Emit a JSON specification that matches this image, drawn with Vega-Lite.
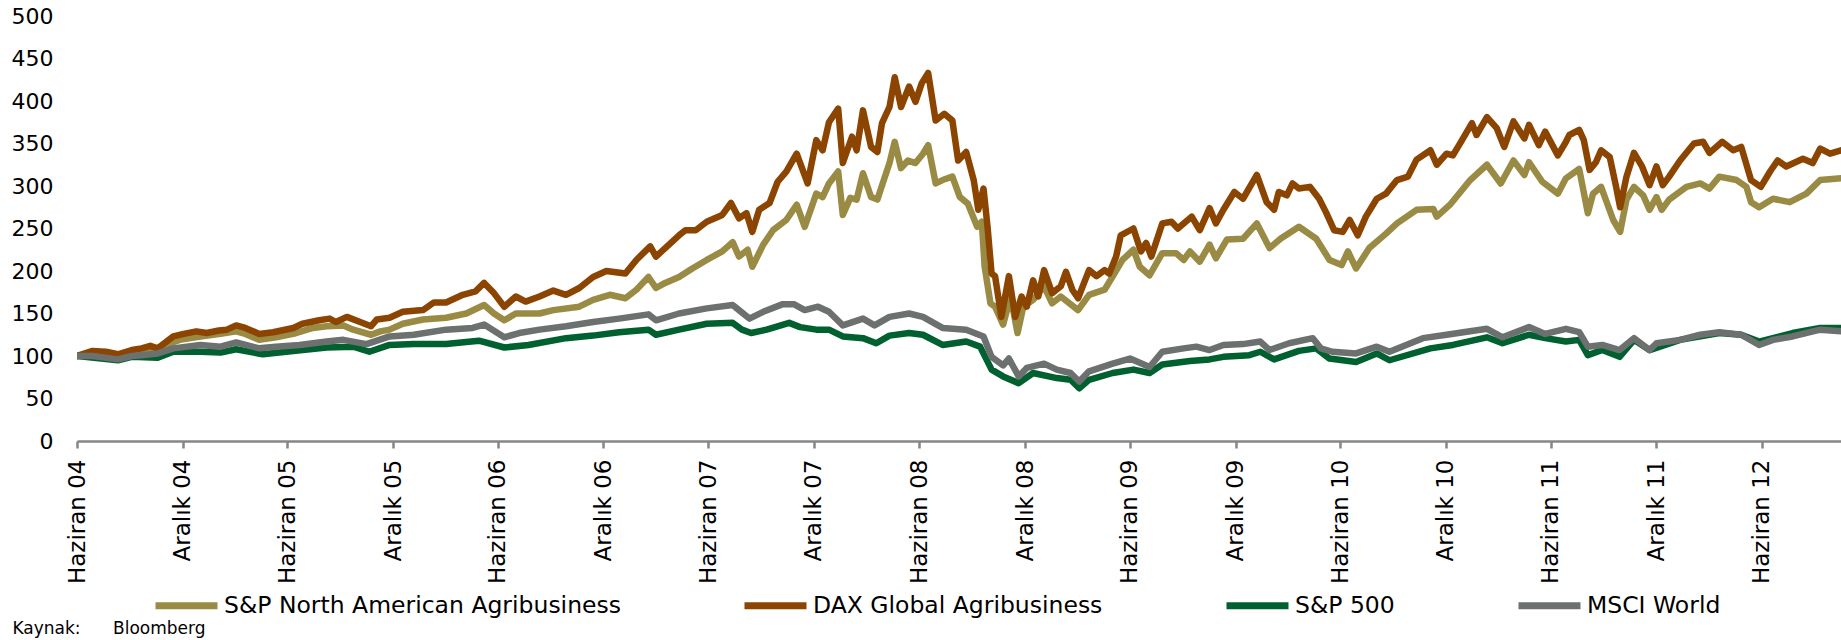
{
"$schema":"https://vega.github.io/schema/vega-lite/v6.json",
"width":1764,"height":425,
"autosize":{"type":"none"},
"padding":{"left":77,"top":16,"right":0,"bottom":199},
"background":"white",
"config":{"view":{"stroke":null},"font":"DejaVu Sans"},
"data":{"values":[
{"series":"S&P North American Agribusiness","date":"2004-06-01","value":100},{"series":"S&P North American Agribusiness","date":"2004-06-28","value":104},{"series":"S&P North American Agribusiness","date":"2004-08-11","value":100},{"series":"S&P North American Agribusiness","date":"2004-09-21","value":106},{"series":"S&P North American Agribusiness","date":"2004-10-19","value":107},{"series":"S&P North American Agribusiness","date":"2004-11-10","value":115},{"series":"S&P North American Agribusiness","date":"2004-11-26","value":119},{"series":"S&P North American Agribusiness","date":"2005-01-01","value":123},{"series":"S&P North American Agribusiness","date":"2005-02-05","value":126},{"series":"S&P North American Agribusiness","date":"2005-03-04","value":129},{"series":"S&P North American Agribusiness","date":"2005-03-20","value":126},{"series":"S&P North American Agribusiness","date":"2005-04-13","value":119},{"series":"S&P North American Agribusiness","date":"2005-05-12","value":122},{"series":"S&P North American Agribusiness","date":"2005-06-11","value":126},{"series":"S&P North American Agribusiness","date":"2005-07-15","value":133},{"series":"S&P North American Agribusiness","date":"2005-08-08","value":135},{"series":"S&P North American Agribusiness","date":"2005-09-06","value":136},{"series":"S&P North American Agribusiness","date":"2005-09-23","value":131},{"series":"S&P North American Agribusiness","date":"2005-10-24","value":125},{"series":"S&P North American Agribusiness","date":"2005-11-09","value":129},{"series":"S&P North American Agribusiness","date":"2005-11-25","value":131},{"series":"S&P North American Agribusiness","date":"2005-12-18","value":138},{"series":"S&P North American Agribusiness","date":"2006-01-22","value":143},{"series":"S&P North American Agribusiness","date":"2006-03-03","value":145},{"series":"S&P North American Agribusiness","date":"2006-04-07","value":150},{"series":"S&P North American Agribusiness","date":"2006-05-08","value":160},{"series":"S&P North American Agribusiness","date":"2006-05-25","value":150},{"series":"S&P North American Agribusiness","date":"2006-06-12","value":142},{"series":"S&P North American Agribusiness","date":"2006-07-02","value":150},{"series":"S&P North American Agribusiness","date":"2006-08-12","value":150},{"series":"S&P North American Agribusiness","date":"2006-09-05","value":154},{"series":"S&P North American Agribusiness","date":"2006-10-20","value":158},{"series":"S&P North American Agribusiness","date":"2006-11-13","value":166},{"series":"S&P North American Agribusiness","date":"2006-12-12","value":172},{"series":"S&P North American Agribusiness","date":"2007-01-08","value":168},{"series":"S&P North American Agribusiness","date":"2007-01-27","value":178},{"series":"S&P North American Agribusiness","date":"2007-02-17","value":193},{"series":"S&P North American Agribusiness","date":"2007-03-02","value":180},{"series":"S&P North American Agribusiness","date":"2007-03-18","value":186},{"series":"S&P North American Agribusiness","date":"2007-04-11","value":193},{"series":"S&P North American Agribusiness","date":"2007-05-04","value":203},{"series":"S&P North American Agribusiness","date":"2007-05-29","value":213},{"series":"S&P North American Agribusiness","date":"2007-06-25","value":223},{"series":"S&P North American Agribusiness","date":"2007-07-13","value":234},{"series":"S&P North American Agribusiness","date":"2007-07-24","value":217},{"series":"S&P North American Agribusiness","date":"2007-08-08","value":225},{"series":"S&P North American Agribusiness","date":"2007-08-16","value":205},{"series":"S&P North American Agribusiness","date":"2007-09-04","value":231},{"series":"S&P North American Agribusiness","date":"2007-09-21","value":248},{"series":"S&P North American Agribusiness","date":"2007-10-14","value":260},{"series":"S&P North American Agribusiness","date":"2007-11-01","value":278},{"series":"S&P North American Agribusiness","date":"2007-11-15","value":252},{"series":"S&P North American Agribusiness","date":"2007-12-05","value":291},{"series":"S&P North American Agribusiness","date":"2007-12-16","value":287},{"series":"S&P North American Agribusiness","date":"2007-12-27","value":303},{"series":"S&P North American Agribusiness","date":"2008-01-12","value":317},{"series":"S&P North American Agribusiness","date":"2008-01-20","value":266},{"series":"S&P North American Agribusiness","date":"2008-02-02","value":286},{"series":"S&P North American Agribusiness","date":"2008-02-13","value":284},{"series":"S&P North American Agribusiness","date":"2008-02-24","value":315},{"series":"S&P North American Agribusiness","date":"2008-03-09","value":287},{"series":"S&P North American Agribusiness","date":"2008-03-20","value":284},{"series":"S&P North American Agribusiness","date":"2008-04-02","value":311},{"series":"S&P North American Agribusiness","date":"2008-04-10","value":327},{"series":"S&P North American Agribusiness","date":"2008-04-19","value":352},{"series":"S&P North American Agribusiness","date":"2008-04-30","value":321},{"series":"S&P North American Agribusiness","date":"2008-05-12","value":330},{"series":"S&P North American Agribusiness","date":"2008-05-25","value":327},{"series":"S&P North American Agribusiness","date":"2008-06-07","value":338},{"series":"S&P North American Agribusiness","date":"2008-06-16","value":348},{"series":"S&P North American Agribusiness","date":"2008-06-29","value":303},{"series":"S&P North American Agribusiness","date":"2008-07-11","value":307},{"series":"S&P North American Agribusiness","date":"2008-07-28","value":311},{"series":"S&P North American Agribusiness","date":"2008-08-10","value":287},{"series":"S&P North American Agribusiness","date":"2008-08-24","value":279},{"series":"S&P North American Agribusiness","date":"2008-09-09","value":252},{"series":"S&P North American Agribusiness","date":"2008-09-17","value":258},{"series":"S&P North American Agribusiness","date":"2008-09-22","value":205},{"series":"S&P North American Agribusiness","date":"2008-10-02","value":162},{"series":"S&P North American Agribusiness","date":"2008-10-10","value":158},{"series":"S&P North American Agribusiness","date":"2008-10-24","value":137},{"series":"S&P North American Agribusiness","date":"2008-11-06","value":170},{"series":"S&P North American Agribusiness","date":"2008-11-18","value":127},{"series":"S&P North American Agribusiness","date":"2008-11-28","value":158},{"series":"S&P North American Agribusiness","date":"2008-12-15","value":166},{"series":"S&P North American Agribusiness","date":"2009-01-03","value":182},{"series":"S&P North American Agribusiness","date":"2009-01-17","value":162},{"series":"S&P North American Agribusiness","date":"2009-02-01","value":170},{"series":"S&P North American Agribusiness","date":"2009-03-03","value":154},{"series":"S&P North American Agribusiness","date":"2009-03-22","value":172},{"series":"S&P North American Agribusiness","date":"2009-04-18","value":178},{"series":"S&P North American Agribusiness","date":"2009-05-05","value":197},{"series":"S&P North American Agribusiness","date":"2009-05-19","value":213},{"series":"S&P North American Agribusiness","date":"2009-06-07","value":225},{"series":"S&P North American Agribusiness","date":"2009-06-18","value":205},{"series":"S&P North American Agribusiness","date":"2009-07-05","value":195},{"series":"S&P North American Agribusiness","date":"2009-07-27","value":221},{"series":"S&P North American Agribusiness","date":"2009-08-20","value":221},{"series":"S&P North American Agribusiness","date":"2009-09-02","value":213},{"series":"S&P North American Agribusiness","date":"2009-09-13","value":223},{"series":"S&P North American Agribusiness","date":"2009-09-30","value":211},{"series":"S&P North American Agribusiness","date":"2009-10-17","value":231},{"series":"S&P North American Agribusiness","date":"2009-10-28","value":215},{"series":"S&P North American Agribusiness","date":"2009-11-16","value":237},{"series":"S&P North American Agribusiness","date":"2009-12-14","value":238},{"series":"S&P North American Agribusiness","date":"2010-01-07","value":256},{"series":"S&P North American Agribusiness","date":"2010-01-29","value":227},{"series":"S&P North American Agribusiness","date":"2010-02-17","value":238},{"series":"S&P North American Agribusiness","date":"2010-03-21","value":252},{"series":"S&P North American Agribusiness","date":"2010-04-20","value":238},{"series":"S&P North American Agribusiness","date":"2010-05-13","value":213},{"series":"S&P North American Agribusiness","date":"2010-06-03","value":207},{"series":"S&P North American Agribusiness","date":"2010-06-14","value":223},{"series":"S&P North American Agribusiness","date":"2010-06-28","value":203},{"series":"S&P North American Agribusiness","date":"2010-07-21","value":227},{"series":"S&P North American Agribusiness","date":"2010-08-19","value":244},{"series":"S&P North American Agribusiness","date":"2010-09-07","value":256},{"series":"S&P North American Agribusiness","date":"2010-10-11","value":272},{"series":"S&P North American Agribusiness","date":"2010-11-09","value":273},{"series":"S&P North American Agribusiness","date":"2010-11-15","value":264},{"series":"S&P North American Agribusiness","date":"2010-12-08","value":278},{"series":"S&P North American Agribusiness","date":"2011-01-12","value":307},{"series":"S&P North American Agribusiness","date":"2011-02-10","value":325},{"series":"S&P North American Agribusiness","date":"2011-03-06","value":303},{"series":"S&P North American Agribusiness","date":"2011-03-28","value":330},{"series":"S&P North American Agribusiness","date":"2011-04-16","value":313},{"series":"S&P North American Agribusiness","date":"2011-04-24","value":328},{"series":"S&P North American Agribusiness","date":"2011-05-17","value":305},{"series":"S&P North American Agribusiness","date":"2011-06-13","value":291},{"series":"S&P North American Agribusiness","date":"2011-06-27","value":309},{"series":"S&P North American Agribusiness","date":"2011-07-20","value":320},{"series":"S&P North American Agribusiness","date":"2011-08-04","value":268},{"series":"S&P North American Agribusiness","date":"2011-08-13","value":291},{"series":"S&P North American Agribusiness","date":"2011-08-27","value":299},{"series":"S&P North American Agribusiness","date":"2011-09-17","value":260},{"series":"S&P North American Agribusiness","date":"2011-09-29","value":246},{"series":"S&P North American Agribusiness","date":"2011-10-10","value":284},{"series":"S&P North American Agribusiness","date":"2011-10-23","value":299},{"series":"S&P North American Agribusiness","date":"2011-11-08","value":289},{"series":"S&P North American Agribusiness","date":"2011-11-19","value":272},{"series":"S&P North American Agribusiness","date":"2011-12-01","value":287},{"series":"S&P North American Agribusiness","date":"2011-12-10","value":272},{"series":"S&P North American Agribusiness","date":"2011-12-23","value":284},{"series":"S&P North American Agribusiness","date":"2012-01-22","value":299},{"series":"S&P North American Agribusiness","date":"2012-02-15","value":303},{"series":"S&P North American Agribusiness","date":"2012-03-02","value":297},{"series":"S&P North American Agribusiness","date":"2012-03-19","value":311},{"series":"S&P North American Agribusiness","date":"2012-04-18","value":307},{"series":"S&P North American Agribusiness","date":"2012-05-05","value":299},{"series":"S&P North American Agribusiness","date":"2012-05-13","value":281},{"series":"S&P North American Agribusiness","date":"2012-05-27","value":275},{"series":"S&P North American Agribusiness","date":"2012-06-20","value":285},{"series":"S&P North American Agribusiness","date":"2012-07-19","value":281},{"series":"S&P North American Agribusiness","date":"2012-08-17","value":291},{"series":"S&P North American Agribusiness","date":"2012-09-10","value":307},{"series":"S&P North American Agribusiness","date":"2012-10-16","value":309},
{"series":"DAX Global Agribusiness","date":"2004-06-01","value":100},{"series":"DAX Global Agribusiness","date":"2004-06-28","value":106},{"series":"DAX Global Agribusiness","date":"2004-07-21","value":105},{"series":"DAX Global Agribusiness","date":"2004-08-11","value":102},{"series":"DAX Global Agribusiness","date":"2004-09-04","value":107},{"series":"DAX Global Agribusiness","date":"2004-09-21","value":109},{"series":"DAX Global Agribusiness","date":"2004-10-06","value":112},{"series":"DAX Global Agribusiness","date":"2004-10-19","value":109},{"series":"DAX Global Agribusiness","date":"2004-11-15","value":123},{"series":"DAX Global Agribusiness","date":"2004-12-03","value":126},{"series":"DAX Global Agribusiness","date":"2004-12-25","value":129},{"series":"DAX Global Agribusiness","date":"2005-01-12","value":127},{"series":"DAX Global Agribusiness","date":"2005-02-02","value":130},{"series":"DAX Global Agribusiness","date":"2005-02-16","value":131},{"series":"DAX Global Agribusiness","date":"2005-03-04","value":136},{"series":"DAX Global Agribusiness","date":"2005-03-20","value":133},{"series":"DAX Global Agribusiness","date":"2005-04-13","value":126},{"series":"DAX Global Agribusiness","date":"2005-05-07","value":128},{"series":"DAX Global Agribusiness","date":"2005-06-11","value":133},{"series":"DAX Global Agribusiness","date":"2005-06-27","value":138},{"series":"DAX Global Agribusiness","date":"2005-07-26","value":142},{"series":"DAX Global Agribusiness","date":"2005-08-13","value":144},{"series":"DAX Global Agribusiness","date":"2005-08-24","value":140},{"series":"DAX Global Agribusiness","date":"2005-09-12","value":146},{"series":"DAX Global Agribusiness","date":"2005-10-05","value":140},{"series":"DAX Global Agribusiness","date":"2005-10-24","value":135},{"series":"DAX Global Agribusiness","date":"2005-11-03","value":143},{"series":"DAX Global Agribusiness","date":"2005-11-25","value":145},{"series":"DAX Global Agribusiness","date":"2005-12-18","value":152},{"series":"DAX Global Agribusiness","date":"2006-01-22","value":154},{"series":"DAX Global Agribusiness","date":"2006-02-10","value":163},{"series":"DAX Global Agribusiness","date":"2006-03-03","value":163},{"series":"DAX Global Agribusiness","date":"2006-04-01","value":172},{"series":"DAX Global Agribusiness","date":"2006-04-23","value":176},{"series":"DAX Global Agribusiness","date":"2006-05-08","value":186},{"series":"DAX Global Agribusiness","date":"2006-05-25","value":174},{"series":"DAX Global Agribusiness","date":"2006-06-12","value":158},{"series":"DAX Global Agribusiness","date":"2006-07-02","value":170},{"series":"DAX Global Agribusiness","date":"2006-07-19","value":164},{"series":"DAX Global Agribusiness","date":"2006-08-12","value":170},{"series":"DAX Global Agribusiness","date":"2006-09-05","value":177},{"series":"DAX Global Agribusiness","date":"2006-09-27","value":172},{"series":"DAX Global Agribusiness","date":"2006-10-20","value":180},{"series":"DAX Global Agribusiness","date":"2006-11-13","value":193},{"series":"DAX Global Agribusiness","date":"2006-12-06","value":200},{"series":"DAX Global Agribusiness","date":"2007-01-08","value":197},{"series":"DAX Global Agribusiness","date":"2007-01-27","value":213},{"series":"DAX Global Agribusiness","date":"2007-02-20","value":229},{"series":"DAX Global Agribusiness","date":"2007-03-02","value":217},{"series":"DAX Global Agribusiness","date":"2007-03-18","value":227},{"series":"DAX Global Agribusiness","date":"2007-04-11","value":242},{"series":"DAX Global Agribusiness","date":"2007-04-22","value":248},{"series":"DAX Global Agribusiness","date":"2007-05-10","value":248},{"series":"DAX Global Agribusiness","date":"2007-05-29","value":258},{"series":"DAX Global Agribusiness","date":"2007-06-25","value":266},{"series":"DAX Global Agribusiness","date":"2007-07-10","value":280},{"series":"DAX Global Agribusiness","date":"2007-07-24","value":262},{"series":"DAX Global Agribusiness","date":"2007-08-06","value":268},{"series":"DAX Global Agribusiness","date":"2007-08-16","value":246},{"series":"DAX Global Agribusiness","date":"2007-08-28","value":272},{"series":"DAX Global Agribusiness","date":"2007-09-15","value":280},{"series":"DAX Global Agribusiness","date":"2007-09-29","value":305},{"series":"DAX Global Agribusiness","date":"2007-10-14","value":317},{"series":"DAX Global Agribusiness","date":"2007-11-01","value":338},{"series":"DAX Global Agribusiness","date":"2007-11-20","value":303},{"series":"DAX Global Agribusiness","date":"2007-12-05","value":354},{"series":"DAX Global Agribusiness","date":"2007-12-16","value":342},{"series":"DAX Global Agribusiness","date":"2007-12-27","value":375},{"series":"DAX Global Agribusiness","date":"2008-01-12","value":391},{"series":"DAX Global Agribusiness","date":"2008-01-20","value":327},{"series":"DAX Global Agribusiness","date":"2008-02-05","value":358},{"series":"DAX Global Agribusiness","date":"2008-02-13","value":342},{"series":"DAX Global Agribusiness","date":"2008-02-24","value":389},{"series":"DAX Global Agribusiness","date":"2008-03-09","value":346},{"series":"DAX Global Agribusiness","date":"2008-03-20","value":340},{"series":"DAX Global Agribusiness","date":"2008-03-28","value":374},{"series":"DAX Global Agribusiness","date":"2008-04-10","value":393},{"series":"DAX Global Agribusiness","date":"2008-04-19","value":428},{"series":"DAX Global Agribusiness","date":"2008-04-30","value":393},{"series":"DAX Global Agribusiness","date":"2008-05-14","value":417},{"series":"DAX Global Agribusiness","date":"2008-05-25","value":399},{"series":"DAX Global Agribusiness","date":"2008-06-05","value":421},{"series":"DAX Global Agribusiness","date":"2008-06-16","value":433},{"series":"DAX Global Agribusiness","date":"2008-06-29","value":377},{"series":"DAX Global Agribusiness","date":"2008-07-14","value":385},{"series":"DAX Global Agribusiness","date":"2008-07-28","value":377},{"series":"DAX Global Agribusiness","date":"2008-08-07","value":330},{"series":"DAX Global Agribusiness","date":"2008-08-21","value":340},{"series":"DAX Global Agribusiness","date":"2008-09-03","value":307},{"series":"DAX Global Agribusiness","date":"2008-09-11","value":272},{"series":"DAX Global Agribusiness","date":"2008-09-20","value":297},{"series":"DAX Global Agribusiness","date":"2008-09-27","value":252},{"series":"DAX Global Agribusiness","date":"2008-10-04","value":197},{"series":"DAX Global Agribusiness","date":"2008-10-10","value":194},{"series":"DAX Global Agribusiness","date":"2008-10-21","value":146},{"series":"DAX Global Agribusiness","date":"2008-11-03","value":194},{"series":"DAX Global Agribusiness","date":"2008-11-14","value":146},{"series":"DAX Global Agribusiness","date":"2008-11-25","value":170},{"series":"DAX Global Agribusiness","date":"2008-12-04","value":158},{"series":"DAX Global Agribusiness","date":"2008-12-15","value":189},{"series":"DAX Global Agribusiness","date":"2008-12-24","value":170},{"series":"DAX Global Agribusiness","date":"2009-01-03","value":201},{"series":"DAX Global Agribusiness","date":"2009-01-17","value":174},{"series":"DAX Global Agribusiness","date":"2009-02-01","value":182},{"series":"DAX Global Agribusiness","date":"2009-02-10","value":199},{"series":"DAX Global Agribusiness","date":"2009-02-21","value":178},{"series":"DAX Global Agribusiness","date":"2009-03-03","value":168},{"series":"DAX Global Agribusiness","date":"2009-03-22","value":201},{"series":"DAX Global Agribusiness","date":"2009-04-04","value":194},{"series":"DAX Global Agribusiness","date":"2009-04-18","value":201},{"series":"DAX Global Agribusiness","date":"2009-04-26","value":197},{"series":"DAX Global Agribusiness","date":"2009-05-08","value":217},{"series":"DAX Global Agribusiness","date":"2009-05-16","value":242},{"series":"DAX Global Agribusiness","date":"2009-06-07","value":250},{"series":"DAX Global Agribusiness","date":"2009-06-20","value":223},{"series":"DAX Global Agribusiness","date":"2009-06-29","value":233},{"series":"DAX Global Agribusiness","date":"2009-07-08","value":217},{"series":"DAX Global Agribusiness","date":"2009-07-27","value":256},{"series":"DAX Global Agribusiness","date":"2009-08-12","value":258},{"series":"DAX Global Agribusiness","date":"2009-08-23","value":250},{"series":"DAX Global Agribusiness","date":"2009-09-16","value":264},{"series":"DAX Global Agribusiness","date":"2009-09-30","value":248},{"series":"DAX Global Agribusiness","date":"2009-10-17","value":274},{"series":"DAX Global Agribusiness","date":"2009-10-28","value":256},{"series":"DAX Global Agribusiness","date":"2009-11-10","value":272},{"series":"DAX Global Agribusiness","date":"2009-11-29","value":293},{"series":"DAX Global Agribusiness","date":"2009-12-14","value":285},{"series":"DAX Global Agribusiness","date":"2010-01-07","value":313},{"series":"DAX Global Agribusiness","date":"2010-01-24","value":281},{"series":"DAX Global Agribusiness","date":"2010-02-06","value":272},{"series":"DAX Global Agribusiness","date":"2010-02-14","value":293},{"series":"DAX Global Agribusiness","date":"2010-02-28","value":289},{"series":"DAX Global Agribusiness","date":"2010-03-10","value":303},{"series":"DAX Global Agribusiness","date":"2010-03-21","value":297},{"series":"DAX Global Agribusiness","date":"2010-04-09","value":299},{"series":"DAX Global Agribusiness","date":"2010-04-25","value":285},{"series":"DAX Global Agribusiness","date":"2010-05-07","value":269},{"series":"DAX Global Agribusiness","date":"2010-05-21","value":248},{"series":"DAX Global Agribusiness","date":"2010-06-05","value":246},{"series":"DAX Global Agribusiness","date":"2010-06-17","value":260},{"series":"DAX Global Agribusiness","date":"2010-07-01","value":242},{"series":"DAX Global Agribusiness","date":"2010-07-15","value":264},{"series":"DAX Global Agribusiness","date":"2010-08-03","value":285},{"series":"DAX Global Agribusiness","date":"2010-08-19","value":291},{"series":"DAX Global Agribusiness","date":"2010-09-07","value":307},{"series":"DAX Global Agribusiness","date":"2010-09-26","value":311},{"series":"DAX Global Agribusiness","date":"2010-10-11","value":331},{"series":"DAX Global Agribusiness","date":"2010-11-04","value":342},{"series":"DAX Global Agribusiness","date":"2010-11-15","value":325},{"series":"DAX Global Agribusiness","date":"2010-12-02","value":338},{"series":"DAX Global Agribusiness","date":"2010-12-13","value":336},{"series":"DAX Global Agribusiness","date":"2010-12-27","value":352},{"series":"DAX Global Agribusiness","date":"2011-01-15","value":374},{"series":"DAX Global Agribusiness","date":"2011-01-23","value":360},{"series":"DAX Global Agribusiness","date":"2011-02-10","value":381},{"series":"DAX Global Agribusiness","date":"2011-02-27","value":368},{"series":"DAX Global Agribusiness","date":"2011-03-12","value":346},{"series":"DAX Global Agribusiness","date":"2011-03-28","value":376},{"series":"DAX Global Agribusiness","date":"2011-04-16","value":356},{"series":"DAX Global Agribusiness","date":"2011-04-24","value":372},{"series":"DAX Global Agribusiness","date":"2011-05-11","value":348},{"series":"DAX Global Agribusiness","date":"2011-05-22","value":364},{"series":"DAX Global Agribusiness","date":"2011-06-13","value":336},{"series":"DAX Global Agribusiness","date":"2011-06-27","value":352},{"series":"DAX Global Agribusiness","date":"2011-07-03","value":360},{"series":"DAX Global Agribusiness","date":"2011-07-20","value":366},{"series":"DAX Global Agribusiness","date":"2011-07-28","value":354},{"series":"DAX Global Agribusiness","date":"2011-08-07","value":319},{"series":"DAX Global Agribusiness","date":"2011-08-18","value":328},{"series":"DAX Global Agribusiness","date":"2011-08-27","value":342},{"series":"DAX Global Agribusiness","date":"2011-09-11","value":334},{"series":"DAX Global Agribusiness","date":"2011-09-22","value":299},{"series":"DAX Global Agribusiness","date":"2011-09-29","value":275},{"series":"DAX Global Agribusiness","date":"2011-10-10","value":311},{"series":"DAX Global Agribusiness","date":"2011-10-23","value":339},{"series":"DAX Global Agribusiness","date":"2011-11-06","value":323},{"series":"DAX Global Agribusiness","date":"2011-11-19","value":301},{"series":"DAX Global Agribusiness","date":"2011-12-01","value":323},{"series":"DAX Global Agribusiness","date":"2011-12-12","value":301},{"series":"DAX Global Agribusiness","date":"2011-12-23","value":311},{"series":"DAX Global Agribusiness","date":"2012-01-11","value":330},{"series":"DAX Global Agribusiness","date":"2012-02-04","value":350},{"series":"DAX Global Agribusiness","date":"2012-02-20","value":352},{"series":"DAX Global Agribusiness","date":"2012-03-02","value":339},{"series":"DAX Global Agribusiness","date":"2012-03-24","value":352},{"series":"DAX Global Agribusiness","date":"2012-04-12","value":342},{"series":"DAX Global Agribusiness","date":"2012-04-26","value":346},{"series":"DAX Global Agribusiness","date":"2012-05-13","value":307},{"series":"DAX Global Agribusiness","date":"2012-05-30","value":299},{"series":"DAX Global Agribusiness","date":"2012-06-15","value":317},{"series":"DAX Global Agribusiness","date":"2012-06-28","value":330},{"series":"DAX Global Agribusiness","date":"2012-07-13","value":323},{"series":"DAX Global Agribusiness","date":"2012-08-11","value":332},{"series":"DAX Global Agribusiness","date":"2012-08-28","value":327},{"series":"DAX Global Agribusiness","date":"2012-09-10","value":344},{"series":"DAX Global Agribusiness","date":"2012-09-27","value":338},{"series":"DAX Global Agribusiness","date":"2012-10-16","value":342},
{"series":"S&P 500","date":"2004-06-01","value":100},{"series":"S&P 500","date":"2004-08-11","value":95},{"series":"S&P 500","date":"2004-09-04","value":99},{"series":"S&P 500","date":"2004-10-19","value":98},{"series":"S&P 500","date":"2004-11-15","value":105},{"series":"S&P 500","date":"2005-01-01","value":105},{"series":"S&P 500","date":"2005-02-05","value":104},{"series":"S&P 500","date":"2005-03-04","value":108},{"series":"S&P 500","date":"2005-04-19","value":102},{"series":"S&P 500","date":"2005-06-11","value":106},{"series":"S&P 500","date":"2005-08-08","value":110},{"series":"S&P 500","date":"2005-09-23","value":111},{"series":"S&P 500","date":"2005-10-21","value":105},{"series":"S&P 500","date":"2005-11-25","value":113},{"series":"S&P 500","date":"2006-01-06","value":114},{"series":"S&P 500","date":"2006-03-03","value":114},{"series":"S&P 500","date":"2006-04-29","value":118},{"series":"S&P 500","date":"2006-06-12","value":110},{"series":"S&P 500","date":"2006-07-24","value":113},{"series":"S&P 500","date":"2006-09-27","value":121},{"series":"S&P 500","date":"2006-11-13","value":124},{"series":"S&P 500","date":"2006-12-28","value":128},{"series":"S&P 500","date":"2007-02-17","value":131},{"series":"S&P 500","date":"2007-03-02","value":125},{"series":"S&P 500","date":"2007-04-11","value":131},{"series":"S&P 500","date":"2007-05-29","value":138},{"series":"S&P 500","date":"2007-07-13","value":139},{"series":"S&P 500","date":"2007-07-29","value":131},{"series":"S&P 500","date":"2007-08-14","value":127},{"series":"S&P 500","date":"2007-09-10","value":131},{"series":"S&P 500","date":"2007-10-19","value":139},{"series":"S&P 500","date":"2007-11-07","value":134},{"series":"S&P 500","date":"2007-12-05","value":131},{"series":"S&P 500","date":"2007-12-27","value":131},{"series":"S&P 500","date":"2008-01-20","value":123},{"series":"S&P 500","date":"2008-02-24","value":121},{"series":"S&P 500","date":"2008-03-18","value":115},{"series":"S&P 500","date":"2008-04-10","value":124},{"series":"S&P 500","date":"2008-05-14","value":127},{"series":"S&P 500","date":"2008-06-07","value":125},{"series":"S&P 500","date":"2008-07-11","value":113},{"series":"S&P 500","date":"2008-08-21","value":117},{"series":"S&P 500","date":"2008-09-14","value":111},{"series":"S&P 500","date":"2008-10-04","value":84},{"series":"S&P 500","date":"2008-10-24","value":76},{"series":"S&P 500","date":"2008-11-20","value":68},{"series":"S&P 500","date":"2008-12-15","value":80},{"series":"S&P 500","date":"2009-01-25","value":74},{"series":"S&P 500","date":"2009-02-18","value":72},{"series":"S&P 500","date":"2009-03-05","value":62},{"series":"S&P 500","date":"2009-03-22","value":72},{"series":"S&P 500","date":"2009-05-02","value":80},{"series":"S&P 500","date":"2009-06-07","value":84},{"series":"S&P 500","date":"2009-07-05","value":80},{"series":"S&P 500","date":"2009-07-27","value":90},{"series":"S&P 500","date":"2009-09-13","value":94},{"series":"S&P 500","date":"2009-10-17","value":96},{"series":"S&P 500","date":"2009-11-10","value":99},{"series":"S&P 500","date":"2009-12-25","value":101},{"series":"S&P 500","date":"2010-01-13","value":105},{"series":"S&P 500","date":"2010-02-06","value":96},{"series":"S&P 500","date":"2010-03-21","value":106},{"series":"S&P 500","date":"2010-04-20","value":109},{"series":"S&P 500","date":"2010-05-13","value":97},{"series":"S&P 500","date":"2010-06-28","value":93},{"series":"S&P 500","date":"2010-08-03","value":103},{"series":"S&P 500","date":"2010-08-25","value":95},{"series":"S&P 500","date":"2010-11-04","value":109},{"series":"S&P 500","date":"2010-12-13","value":113},{"series":"S&P 500","date":"2011-02-10","value":122},{"series":"S&P 500","date":"2011-03-09","value":115},{"series":"S&P 500","date":"2011-04-24","value":125},{"series":"S&P 500","date":"2011-05-22","value":121},{"series":"S&P 500","date":"2011-06-27","value":117},{"series":"S&P 500","date":"2011-07-20","value":119},{"series":"S&P 500","date":"2011-08-04","value":101},{"series":"S&P 500","date":"2011-08-29","value":107},{"series":"S&P 500","date":"2011-09-28","value":99},{"series":"S&P 500","date":"2011-10-23","value":119},{"series":"S&P 500","date":"2011-11-19","value":107},{"series":"S&P 500","date":"2012-01-11","value":119},{"series":"S&P 500","date":"2012-03-19","value":127},{"series":"S&P 500","date":"2012-04-26","value":125},{"series":"S&P 500","date":"2012-05-27","value":117},{"series":"S&P 500","date":"2012-07-24","value":127},{"series":"S&P 500","date":"2012-09-10","value":133},{"series":"S&P 500","date":"2012-10-16","value":133},
{"series":"MSCI World","date":"2004-06-01","value":100},{"series":"MSCI World","date":"2004-06-28","value":100},{"series":"MSCI World","date":"2004-08-11","value":96},{"series":"MSCI World","date":"2004-09-04","value":100},{"series":"MSCI World","date":"2004-09-21","value":101},{"series":"MSCI World","date":"2004-10-19","value":103},{"series":"MSCI World","date":"2004-11-15","value":109},{"series":"MSCI World","date":"2005-01-01","value":113},{"series":"MSCI World","date":"2005-02-05","value":111},{"series":"MSCI World","date":"2005-03-04","value":116},{"series":"MSCI World","date":"2005-04-13","value":109},{"series":"MSCI World","date":"2005-05-12","value":111},{"series":"MSCI World","date":"2005-06-22","value":113},{"series":"MSCI World","date":"2005-08-08","value":117},{"series":"MSCI World","date":"2005-09-06","value":119},{"series":"MSCI World","date":"2005-10-16","value":114},{"series":"MSCI World","date":"2005-11-25","value":123},{"series":"MSCI World","date":"2006-01-06","value":125},{"series":"MSCI World","date":"2006-03-03","value":131},{"series":"MSCI World","date":"2006-04-18","value":133},{"series":"MSCI World","date":"2006-05-08","value":137},{"series":"MSCI World","date":"2006-06-12","value":122},{"series":"MSCI World","date":"2006-07-08","value":127},{"series":"MSCI World","date":"2006-08-12","value":131},{"series":"MSCI World","date":"2006-09-27","value":135},{"series":"MSCI World","date":"2006-11-13","value":140},{"series":"MSCI World","date":"2006-12-28","value":144},{"series":"MSCI World","date":"2007-02-17","value":149},{"series":"MSCI World","date":"2007-03-02","value":142},{"series":"MSCI World","date":"2007-04-11","value":150},{"series":"MSCI World","date":"2007-05-29","value":156},{"series":"MSCI World","date":"2007-07-13","value":160},{"series":"MSCI World","date":"2007-07-24","value":154},{"series":"MSCI World","date":"2007-08-11","value":144},{"series":"MSCI World","date":"2007-09-04","value":152},{"series":"MSCI World","date":"2007-10-08","value":161},{"series":"MSCI World","date":"2007-10-27","value":161},{"series":"MSCI World","date":"2007-11-15","value":154},{"series":"MSCI World","date":"2007-12-08","value":158},{"series":"MSCI World","date":"2007-12-27","value":152},{"series":"MSCI World","date":"2008-01-20","value":136},{"series":"MSCI World","date":"2008-02-24","value":144},{"series":"MSCI World","date":"2008-03-15","value":136},{"series":"MSCI World","date":"2008-04-10","value":146},{"series":"MSCI World","date":"2008-05-14","value":150},{"series":"MSCI World","date":"2008-06-07","value":146},{"series":"MSCI World","date":"2008-07-11","value":133},{"series":"MSCI World","date":"2008-08-21","value":131},{"series":"MSCI World","date":"2008-09-20","value":123},{"series":"MSCI World","date":"2008-10-04","value":99},{"series":"MSCI World","date":"2008-10-24","value":89},{"series":"MSCI World","date":"2008-11-03","value":97},{"series":"MSCI World","date":"2008-11-20","value":76},{"series":"MSCI World","date":"2008-12-04","value":86},{"series":"MSCI World","date":"2009-01-03","value":91},{"series":"MSCI World","date":"2009-01-25","value":84},{"series":"MSCI World","date":"2009-02-18","value":80},{"series":"MSCI World","date":"2009-03-05","value":70},{"series":"MSCI World","date":"2009-03-22","value":82},{"series":"MSCI World","date":"2009-05-02","value":91},{"series":"MSCI World","date":"2009-06-01","value":97},{"series":"MSCI World","date":"2009-07-05","value":87},{"series":"MSCI World","date":"2009-07-27","value":105},{"series":"MSCI World","date":"2009-09-02","value":109},{"series":"MSCI World","date":"2009-09-24","value":111},{"series":"MSCI World","date":"2009-10-17","value":107},{"series":"MSCI World","date":"2009-11-10","value":113},{"series":"MSCI World","date":"2009-12-14","value":114},{"series":"MSCI World","date":"2010-01-13","value":117},{"series":"MSCI World","date":"2010-01-29","value":107},{"series":"MSCI World","date":"2010-03-04","value":115},{"series":"MSCI World","date":"2010-04-14","value":121},{"series":"MSCI World","date":"2010-04-28","value":109},{"series":"MSCI World","date":"2010-05-18","value":105},{"series":"MSCI World","date":"2010-06-28","value":103},{"series":"MSCI World","date":"2010-08-03","value":111},{"series":"MSCI World","date":"2010-08-25","value":105},{"series":"MSCI World","date":"2010-10-22","value":121},{"series":"MSCI World","date":"2010-12-02","value":125},{"series":"MSCI World","date":"2011-02-10","value":132},{"series":"MSCI World","date":"2011-03-09","value":122},{"series":"MSCI World","date":"2011-04-24","value":134},{"series":"MSCI World","date":"2011-05-22","value":126},{"series":"MSCI World","date":"2011-06-27","value":132},{"series":"MSCI World","date":"2011-07-20","value":128},{"series":"MSCI World","date":"2011-08-04","value":111},{"series":"MSCI World","date":"2011-08-29","value":113},{"series":"MSCI World","date":"2011-09-28","value":107},{"series":"MSCI World","date":"2011-10-23","value":121},{"series":"MSCI World","date":"2011-11-19","value":107},{"series":"MSCI World","date":"2011-12-01","value":115},{"series":"MSCI World","date":"2012-01-11","value":119},{"series":"MSCI World","date":"2012-02-15","value":125},{"series":"MSCI World","date":"2012-03-19","value":128},{"series":"MSCI World","date":"2012-04-26","value":125},{"series":"MSCI World","date":"2012-05-27","value":113},{"series":"MSCI World","date":"2012-06-20","value":119},{"series":"MSCI World","date":"2012-07-24","value":123},{"series":"MSCI World","date":"2012-09-10","value":131},{"series":"MSCI World","date":"2012-10-16","value":129}
]},
"mark":{"type":"line","strokeWidth":6.5,"strokeJoin":"round","strokeCap":"round","clip":true},
"encoding":{
"x":{"field":"date","type":"temporal",
 "scale":{"type":"utc","domain":[{"year":2004,"month":6,"date":1,"utc":true},{"year":2012,"month":10,"date":16,"utc":true}]},
 "axis":{"values":[{"year":2004,"month":6,"date":1,"utc":true},{"year":2004,"month":12,"date":1,"utc":true},{"year":2005,"month":6,"date":1,"utc":true},{"year":2005,"month":12,"date":1,"utc":true},{"year":2006,"month":6,"date":1,"utc":true},{"year":2006,"month":12,"date":1,"utc":true},{"year":2007,"month":6,"date":1,"utc":true},{"year":2007,"month":12,"date":1,"utc":true},{"year":2008,"month":6,"date":1,"utc":true},{"year":2008,"month":12,"date":1,"utc":true},{"year":2009,"month":6,"date":1,"utc":true},{"year":2009,"month":12,"date":1,"utc":true},{"year":2010,"month":6,"date":1,"utc":true},{"year":2010,"month":12,"date":1,"utc":true},{"year":2011,"month":6,"date":1,"utc":true},{"year":2011,"month":12,"date":1,"utc":true},{"year":2012,"month":6,"date":1,"utc":true}],
  "labelExpr":"(utcmonth(datum.value) == 5 ? 'Haziran ' : 'Aralık ') + utcFormat(datum.value, '%y')",
  "labelAngle":270,"labelFontSize":23,"labelColor":"#000000","labelPadding":11,"labelOverlap":false,"labelFlush":false,"labelBound":false,
  "domainColor":"#868686","domainWidth":2.5,"tickColor":"#868686","tickWidth":2.5,"tickSize":7,"grid":false,
  "title":"Kaynak:\u00a0\u00a0\u00a0\u00a0\u00a0\u00a0Bloomberg","titleX":-65,"titleY":192,"titleAlign":"left","titleAnchor":"start","titleBaseline":"alphabetic","titleFontSize":17,"titleFontWeight":"normal","titleColor":"#000000"}},
"y":{"field":"value","type":"quantitative","scale":{"domain":[0,500],"nice":false,"zero":true},
 "axis":{"values":[0,50,100,150,200,250,300,350,400,450,500],"domain":false,"ticks":false,"tickSize":0,"labelPadding":24,"labelFontSize":22,"labelColor":"#000000","grid":false,"title":null}},
"color":{"field":"series","type":"nominal","sort":null,
 "scale":{"domain":["S&P North American Agribusiness","DAX Global Agribusiness","S&P 500","MSCI World"],"range":["#9A8B44","#8C4500","#00602F","#6C706E"]},
 "legend":{"orient":"none","legendX":75,"legendY":555,"direction":"horizontal","title":null,"symbolType":"stroke","symbolStrokeWidth":7,"symbolSize":3844,"labelFontSize":23.5,"labelColor":"#000000","labelLimit":1000,"columnPadding":109,"labelOffset":3,"padding":0}}
}
}
